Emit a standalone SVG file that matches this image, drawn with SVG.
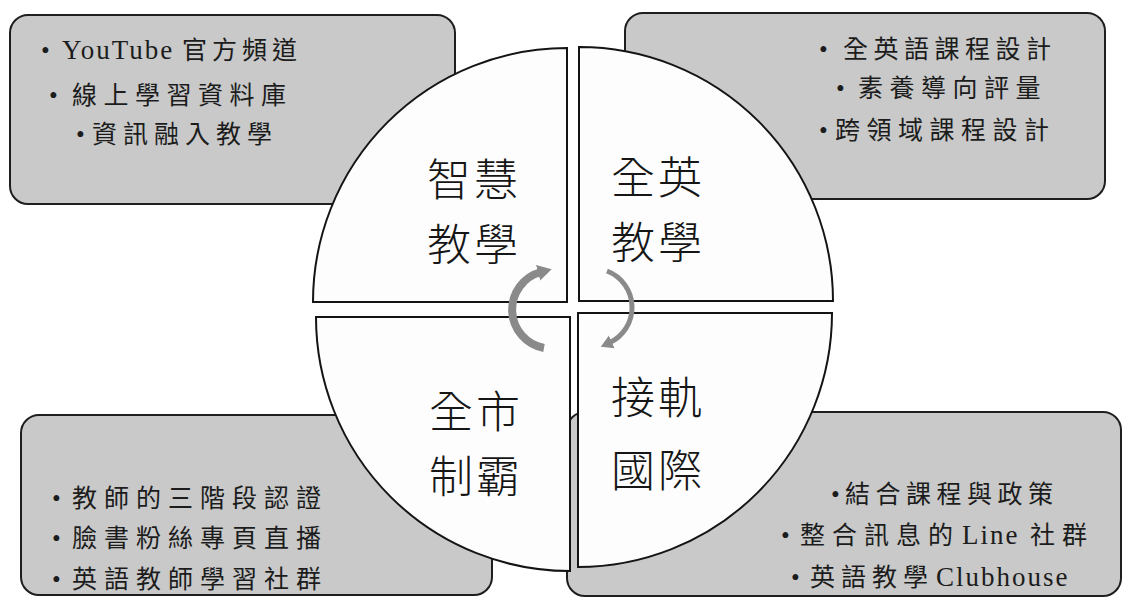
<svg xmlns="http://www.w3.org/2000/svg" width="1123" height="597" viewBox="0 0 1123 597">
<style>
.box{fill:#c8c9c8;stroke:#1e1e1e;stroke-width:2}
.quad{fill:#fdfdfd;stroke:#141414;stroke-width:2}
.bt{font-family:"Liberation Serif","Noto Sans CJK TC",serif;font-size:25px;fill:#1c1c1c}
.lat{font-size:27px;letter-spacing:2px}
.ql{font-family:"Noto Sans CJK TC","Noto Sans CJK SC",sans-serif;font-size:44px;font-weight:300;letter-spacing:3px;fill:#161616;text-anchor:middle}
.arc{fill:none;stroke:#8a8a8a}
</style>
<defs>
<marker id="ahL" markerUnits="userSpaceOnUse" markerWidth="18" markerHeight="18" refX="3" refY="9" orient="auto">
<path d="M0,1 L14,9 L0,17 Z" fill="#8a8a8a"/>
</marker>
<marker id="ahR" markerUnits="userSpaceOnUse" markerWidth="16" markerHeight="16" refX="3" refY="8" orient="auto">
<path d="M0,1 L12,8 L0,15 Z" fill="#8a8a8a"/>
</marker>
</defs>
<rect width="1123" height="597" fill="#ffffff"/>

<g id="box-smart">
<rect class="box" x="10" y="15" width="445" height="189" rx="18"/>
<text class="bt" x="41" y="59">•<tspan x="62" class="lat">YouTube</tspan><tspan x="182" letter-spacing="5">官方頻道</tspan></text>
<text class="bt" x="49" y="104">•<tspan x="72" letter-spacing="6.5">線上學習資料庫</tspan></text>
<text class="bt" x="76" y="143">•<tspan x="92" letter-spacing="6">資訊融入教學</tspan></text>
</g>

<g id="box-english">
<rect class="box" x="625" y="13" width="480" height="186" rx="18"/>
<text class="bt" x="819" y="58">•<tspan x="843" letter-spacing="5.5">全英語課程設計</tspan></text>
<text class="bt" x="836" y="97">•<tspan x="858" letter-spacing="6.5">素養導向評量</tspan></text>
<text class="bt" x="819" y="139">•<tspan x="835" letter-spacing="6.5">跨領域課程設計</tspan></text>
</g>

<g id="box-city">
<rect class="box" x="21" y="415" width="471" height="180" rx="18"/>
<text class="bt" x="52" y="507">•<tspan x="72" letter-spacing="7">教師的三階段認證</tspan></text>
<text class="bt" x="52" y="547">•<tspan x="72" letter-spacing="7">臉書粉絲專頁直播</tspan></text>
<text class="bt" x="52" y="588">•<tspan x="72" letter-spacing="7">英語教師學習社群</tspan></text>
</g>

<g id="box-intl">
<rect class="box" x="567" y="412" width="554" height="184" rx="18"/>
<text class="bt" x="831" y="503">•<tspan x="845" letter-spacing="5.5">結合課程與政策</tspan></text>
<text class="bt" x="781" y="544">•<tspan x="800" letter-spacing="7">整合訊息的</tspan><tspan x="962" class="lat">Line</tspan><tspan x="1030" letter-spacing="7">社群</tspan></text>
<text class="bt" x="791" y="586">•<tspan x="810" letter-spacing="6">英語教學</tspan><tspan x="936" class="lat" letter-spacing="3">Clubhouse</tspan></text>
</g>

<g id="quad-smart">
<path class="quad" d="M567,302 L567,48 A254,254 0 0 0 313,302 Z"/>
<text class="ql"><tspan x="474" y="196">智慧</tspan><tspan x="474" y="261">教學</tspan></text>
</g>

<g id="quad-english">
<path class="quad" d="M579,301 L579,47 A254,254 0 0 1 833,301 Z"/>
<text class="ql"><tspan x="658" y="194">全英</tspan><tspan x="658" y="259">教學</tspan></text>
</g>

<g id="quad-city">
<path class="quad" d="M570,317 L316,317 A254,254 0 0 0 570,571 Z"/>
<text class="ql"><tspan x="476" y="428">全市</tspan><tspan x="476" y="493">制霸</tspan></text>
</g>

<g id="quad-intl">
<path class="quad" d="M578,313 L832,313 A254,254 0 0 1 578,567 Z"/>
<text class="ql"><tspan x="658" y="414">接軌</tspan><tspan x="658" y="487">國際</tspan></text>
</g>

<g id="connectors">
<path class="arc" stroke-width="8" d="M544,348 A39,39 0 0 1 541,272" marker-end="url(#ahL)"/>
<path class="arc" stroke-width="5" d="M607,271 A39,39 0 0 1 609,343" marker-end="url(#ahR)"/>
</g>
</svg>
